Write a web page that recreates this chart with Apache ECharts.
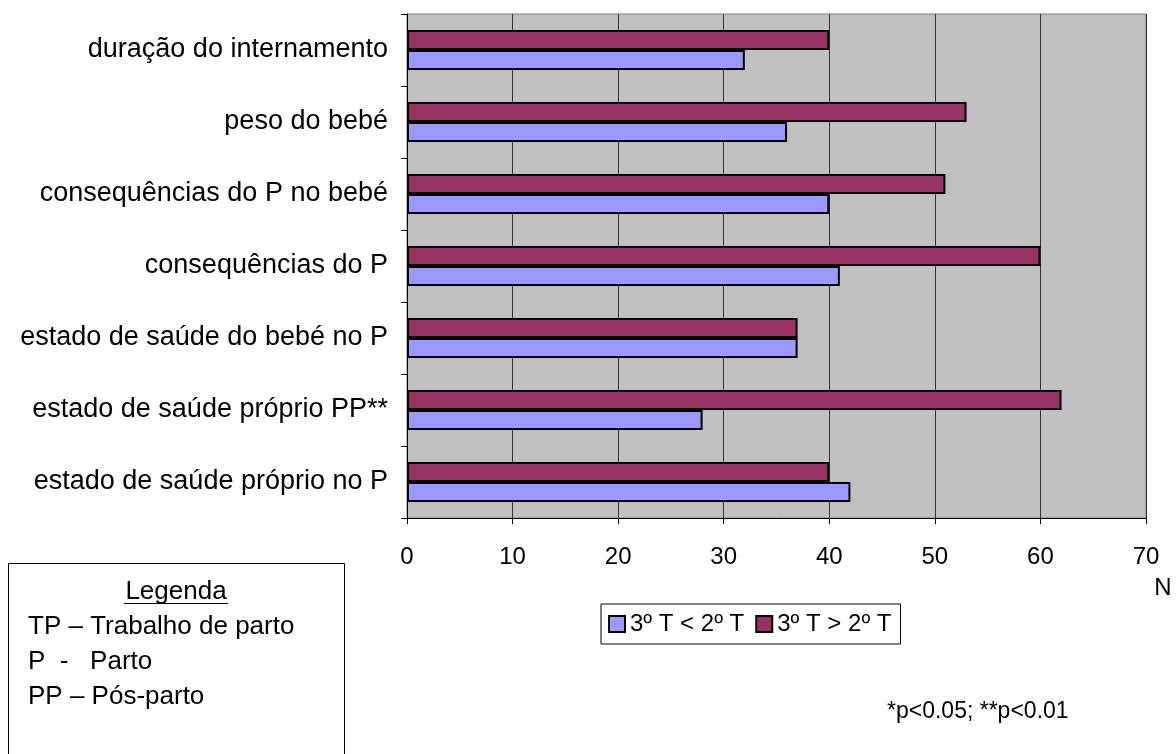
<!DOCTYPE html>
<html>
<head>
<meta charset="utf-8">
<script src="https://cdn.jsdelivr.net/npm/echarts@6/dist/echarts.min.js"></script>
<style>
html,body{margin:0;padding:0;background:#fff;}
#c{width:1176px;height:754px;}
</style>
</head>
<body>
<div id="c"></div>
<script>
// Data (bottom to top)
const categories = [
  'estado de saúde próprio no P',
  'estado de saúde próprio PP**',
  'estado de saúde do bebé no P',
  'consequências do P',
  'consequências do P no bebé',
  'peso do bebé',
  'duração do internamento'
];
const seriesNames = ['3º T < 2º T', '3º T > 2º T'];
const valuesLess = [42, 28, 37, 41, 40, 36, 32];
const valuesMore = [40, 62, 37, 60, 51, 53, 40];
const xTicks = { min: 0, max: 70, interval: 10 };

const FONT = '"Liberation Sans", Arial, sans-serif';
const chart = echarts.init(document.getElementById('c'), null, { renderer: 'canvas' });

chart.setOption({
  animation: false,
  backgroundColor: '#ffffff',
  textStyle: { fontFamily: FONT, color: '#000' },
  grid: {
    left: 407, top: 14, width: 739, height: 504,
    show: true, backgroundColor: '#C0C0C0', borderColor: '#808080', borderWidth: 1,
    containLabel: false
  },
  xAxis: {
    type: 'value', min: xTicks.min, max: xTicks.max, interval: xTicks.interval,
    axisLine: { show: true, lineStyle: { color: '#000', width: 1 } },
    axisTick: { show: true, length: 6, lineStyle: { color: '#000' } },
    axisLabel: { fontSize: 24, color: '#000', margin: 27, fontFamily: FONT },
    splitLine: { show: true, lineStyle: { color: '#333333', width: 1 } }
  },
  yAxis: {
    type: 'category', data: categories,
    axisLine: { show: true, lineStyle: { color: '#000', width: 1 } },
    axisTick: { show: true, length: 6, lineStyle: { color: '#000' } },
    axisLabel: { fontSize: 27, color: '#000', margin: 19, fontFamily: FONT },
    splitLine: { show: false }
  },
  legend: {
    left: 601, top: 604,
    data: seriesNames,
    icon: 'rect', itemWidth: 16, itemHeight: 16, itemGap: 11,
    borderColor: '#000', borderWidth: 1, borderRadius: 0,
    padding: [8, 9, 8, 7],
    textStyle: { fontSize: 24, color: '#000', fontFamily: FONT }
  },
  series: [
    {
      name: seriesNames[1], type: 'bar', data: valuesMore,
      barWidth: 20, barGap: '0%',
      itemStyle: { color: '#993366', borderColor: '#000', borderWidth: 2 }
    },
    {
      name: seriesNames[0], type: 'bar', data: valuesLess,
      barWidth: 20, barGap: '0%',
      itemStyle: { color: '#9999FF', borderColor: '#000', borderWidth: 2 }
    }
  ],
  graphic: [
    { type: 'text', x: 1163, y: 588, style: { text: 'N', fontSize: 24, fill: '#000', fontFamily: FONT, align: 'center', verticalAlign: 'middle' } },
    { type: 'rect', shape: { x: 8.5, y: 563.5, width: 336, height: 220 }, style: { fill: 'none', stroke: '#000', lineWidth: 1 } },
    { type: 'text', x: 176, y: 592, style: { text: 'Legenda', fontSize: 26, fill: '#000', fontFamily: FONT, align: 'center', verticalAlign: 'middle' } },
    { type: 'line', shape: { x1: 124, y1: 603.5, x2: 228, y2: 603.5 }, style: { stroke: '#000', lineWidth: 1 } },
    { type: 'text', x: 28, y: 627, style: { text: 'TP – Trabalho de parto', fontSize: 26, fill: '#000', fontFamily: FONT, verticalAlign: 'middle' } },
    { type: 'text', x: 28, y: 662, style: { text: 'P  -   Parto', fontSize: 26, fill: '#000', fontFamily: FONT, verticalAlign: 'middle' } },
    { type: 'text', x: 28, y: 697, style: { text: 'PP – Pós-parto', fontSize: 26, fill: '#000', fontFamily: FONT, verticalAlign: 'middle' } },
    { type: 'text', x: 887, y: 712, style: { text: '*p<0.05; **p<0.01', fontSize: 23, fill: '#000', fontFamily: FONT, verticalAlign: 'middle' } }
  ]
});
</script>
</body>
</html>
